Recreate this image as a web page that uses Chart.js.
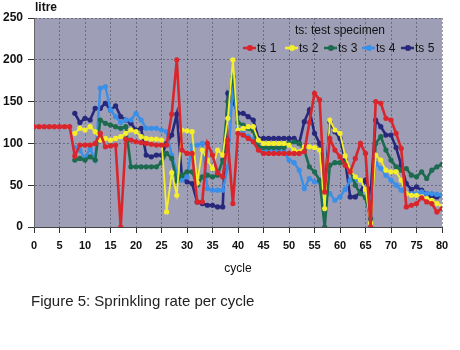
<!DOCTYPE html>
<html>
<head>
<meta charset="utf-8">
<script src="https://cdn.jsdelivr.net/npm/chart.js@4/dist/chart.umd.min.js"></script>
<style>
  html, body { margin: 0; padding: 0; background: #fff; }
  #wrap { width: 460px; height: 350px; }
</style>
</head>
<body>
<div id="wrap"><canvas id="sprinkleChart" width="460" height="350"></canvas></div>
<script>
// ============================================================
// DATA
// ============================================================
const cycles = [0,1,2,3,4,5,6,7,8,9,10,11,12,13,14,15,16,17,18,19,20,
  21,22,23,24,25,26,27,28,29,30,31,32,33,34,35,36,37,38,39,40,
  41,42,43,44,45,46,47,48,49,50,51,52,53,54,55,56,57,58,59,60,
  61,62,63,64,65,66,67,68,69,70,71,72,73,74,75,76,77,78,79,80];

const ts1 = [120,120,120,120,120,120,120,120, 85, 98, 98, 98,100,112, 96, 97, 98,  0,105,104,102,
  101,100, 99, 98, 98, 98,135,200, 92, 88, 88, 30, 30,100, 86, 65, 60,104, 28,112,
  110,106,102, 92, 88, 88, 88, 88, 88, 88, 88, 88, 90,125,160,152, 42,106, 92, 84,
   74, 66, 82,100, 88,  0,150,148,130,128,112, 94, 24, 26, 28, 35, 30, 28, 18, 22];

const ts2 = [null,null,null,null,null,null,null,null,112,118,116,120,114,104,106,104,106,108,112,116,114,
  108,106,105,105,104, 18, 65, 38,116,115,114, 53, 92, 80, 70, 92, 86,130,200,116,
  118,120,120,104,100,100,100,100,100, 98, 92, 90, 96, 96, 95, 92, 22,128,116,112,
   85, 68, 60, 56, 45,  5, 86, 80, 68, 66, 66, 56, 40, 38, 38, 36, 34, 32, 28, 25];

const ts3 = [null,null,null,null,null,null,null,null, 80, 82, 80, 84, 80,128,124,122,120,118,120, 72, 72,
   72, 72, 72, 72, 77, 88, 82, 55, 62, 66, 66, 50, 60, 62, 60, 62, 80,150,180,125,
  122,118,115, 96, 95, 95, 95, 95, 95,100,102,100, 92, 72, 66, 56,  0, 74, 77, 77,
   77, 68, 50, 40, 35, 10,100,108, 92, 80, 72, 68, 70, 62, 60, 66, 58, 68, 72, 75];

const ts4 = [null,null,null,null,null,null,null,null, 95, 92, 82, 94, 80,166,168,140,132,125,128,128,136,
  128,118,118,118,116,114, 86, 66, 56, 60, 98, 98,100, 46, 44, 44, 44, 72,170,118,
  112,108,105, 95, 92, 92, 92, 92, 90, 80, 77, 68, 46, 58, 54, 54, 48, 40, 32, 36,
   45, 56, 56, 56, 46, 30, 76, 70, 62, 56, 50, 44, 40, 40, 40, 42, 40, 40, 39, 38];

const ts5 = [null,null,null,null,null,null,null,null,136,125,130,128,142,142,148,140,145,132,128,124,116,
  118, 86, 84, 86, 86,100,110,135, 60, 54, 52, 30, 28, 26, 26, 24, 24,160,150,136,
  136,132,128,106,106,106,106,106,106,106,106,100,126,140,112,100, 40,126,114,106,
   80, 36, 36, 42, 56, 40,128,120,110,110, 95, 74, 52, 45, 48, 44, 40, 36, 36, 38];

const seriesNames  = ['ts 1','ts 2','ts 3','ts 4','ts 5'];
const seriesValues = [ts1, ts2, ts3, ts4, ts5];
const yTicks = [0, 50, 100, 150, 200, 250];

const COLORS  = ['#d9262c','#f4ee2c','#1d6b4e','#3a8fe8','#27287c'];
const WIDTHS  = [2.6, 1.8, 2.6, 2.4, 2.6];
const PLOT_BG = '#9e9eb6';
const GRID    = 'rgba(45,45,65,0.45)';
const FONT    = '"Liberation Sans", Arial, sans-serif';

// ============================================================
// PLUGIN: plot background, legend, captions
// ============================================================
const decor = {
  id: 'decor',
  beforeDraw(chart) {
    const { ctx, chartArea: a } = chart;
    ctx.save();
    ctx.fillStyle = PLOT_BG;
    ctx.fillRect(a.left, a.top, a.right - a.left, a.bottom - a.top);
    ctx.restore();
  },
  afterDraw(chart) {
    const { ctx, chartArea: a } = chart;
    ctx.save();
    ctx.fillStyle = '#111';
    ctx.textBaseline = 'middle';

    // y unit
    ctx.font = 'bold 12px ' + FONT;
    ctx.textAlign = 'left';
    ctx.fillText('litre', a.left + 1, 8);

    // caption
    ctx.font = '15px ' + FONT;
    ctx.fillStyle = '#222';
    ctx.fillText('Figure 5: Sprinkling rate per cycle', 31, 302);

    // legend inside plot, top right
    ctx.fillStyle = '#111';
    ctx.font = '12px ' + FONT;
    ctx.textAlign = 'center';
    ctx.fillText('ts: test specimen', a.right - 102, a.top + 13);

    const xs = [250, 292, 331, 369, 408];
    const ly = a.top + 30;
    chart.data.datasets.forEach((ds, i) => {
      const mx = xs[i];
      ctx.strokeStyle = ds.borderColor;
      ctx.lineWidth = 2.5;
      ctx.beginPath();
      ctx.moveTo(mx - 7, ly);
      ctx.lineTo(mx + 6, ly);
      ctx.stroke();
      ctx.fillStyle = ds.borderColor;
      ctx.beginPath();
      ctx.arc(mx, ly, 3, 0, Math.PI * 2);
      ctx.fill();
      ctx.fillStyle = '#111';
      ctx.textAlign = 'left';
      ctx.fillText(ds.label, mx + 7, ly + 1);
    });
    ctx.restore();
  }
};

// ============================================================
// CHART
// ============================================================
const datasets = seriesNames.map((name, i) => ({
  label: name,
  data: cycles.map((c, j) => ({ x: c, y: seriesValues[i][j] })),
  borderColor: COLORS[i],
  backgroundColor: COLORS[i],
  borderWidth: WIDTHS[i],
  pointRadius: 2.6,
  pointBorderWidth: 0,
  pointHoverRadius: 3,
  tension: 0,
  spanGaps: false,
  fill: false,
}));

new Chart(document.getElementById('sprinkleChart'), {
  type: 'line',
  data: { datasets },
  options: {
    responsive: false,
    animation: false,
    layout: { padding: { left: 0, top: 18, right: 18, bottom: 68 } },
    plugins: {
      legend: { display: false },
      tooltip: { enabled: false },
    },
    scales: {
      x: {
        type: 'linear',
        min: 0, max: 80,
        afterFit: s => { s.height = 55; },
        ticks: {
          stepSize: 5, padding: 6,
          color: '#111', font: { family: FONT, size: 11, weight: 'bold' },
          maxRotation: 0,
        },
        grid: {
          color: GRID, lineWidth: 1,
          tickColor: '#333', tickLength: 6, tickBorderDash: [],
        },
        border: { display: true, color: '#444', dash: [2, 2] },
        title: {
          display: true, text: 'cycle', color: '#111',
          font: { family: FONT, size: 12 }, padding: { top: 0, bottom: 6 },
        },
      },
      y: {
        min: 0, max: 250,
        afterFit: s => { s.width = 34; },
        afterBuildTicks: s => { s.ticks = yTicks.map(v => ({ value: v })); },
        ticks: {
          padding: 5, color: '#111',
          font: { family: FONT, size: 12, weight: 'bold' },
        },
        grid: {
          color: GRID, lineWidth: 1,
          tickColor: '#333', tickLength: 6, tickBorderDash: [],
        },
        border: { display: true, color: '#666', dash: [2, 2] },
      },
    },
  },
  plugins: [decor],
});
</script>
</body>
</html>
